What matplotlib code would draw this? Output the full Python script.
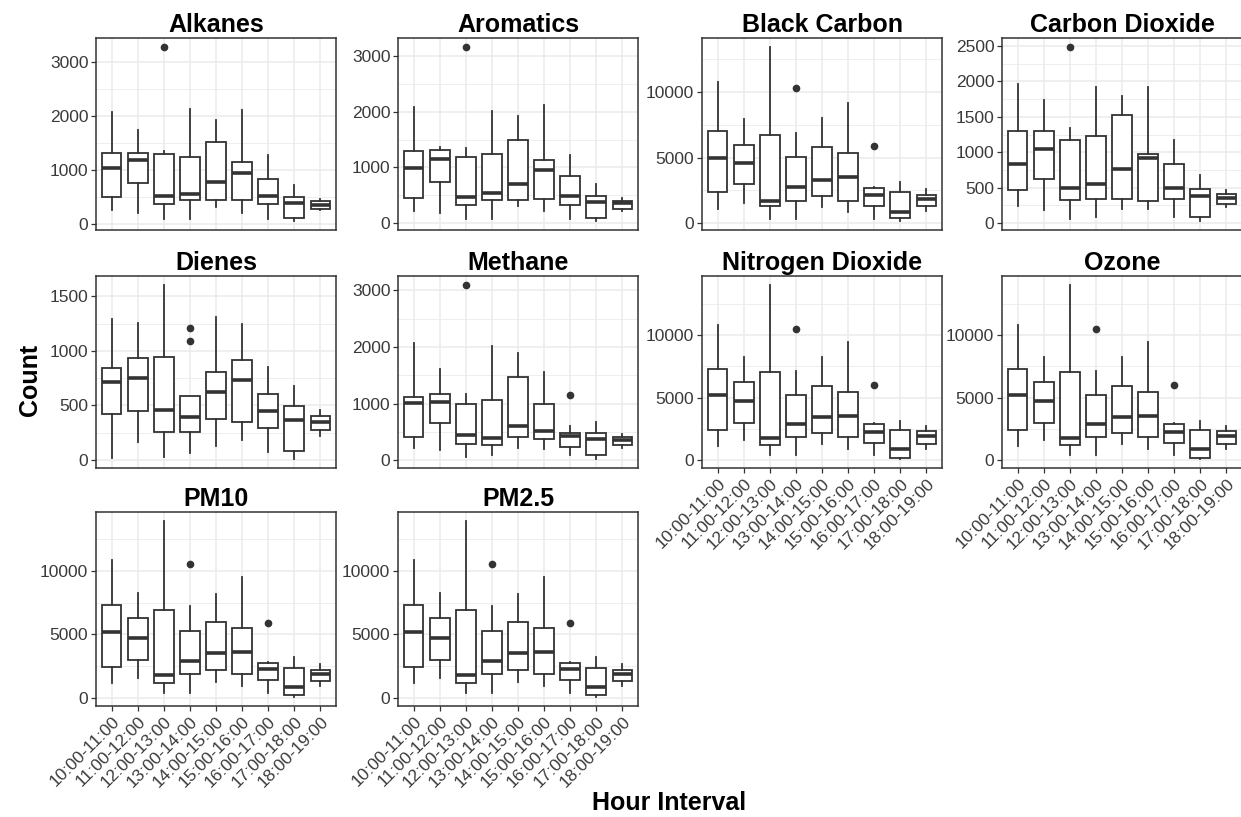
import matplotlib
matplotlib.use("Agg")
import matplotlib.pyplot as plt
from matplotlib.ticker import MultipleLocator

plt.rcParams['font.family'] = ['Liberation Sans', 'DejaVu Sans']

intervals = ["10:00-11:00", "11:00-12:00", "12:00-13:00", "13:00-14:00", "14:00-15:00",
             "15:00-16:00", "16:00-17:00", "17:00-18:00", "18:00-19:00"]

# --- box statistics: lower whisker, Q1, median, Q3, upper whisker, outliers
alkanes_lo  = [248, 199, 93, 93, 311, 205, 93, 43, 248]
alkanes_q1  = [491, 752, 360, 435, 435, 441, 360, 106, 280]
alkanes_med = [1025, 1180, 509, 559, 764, 944, 509, 385, 354]
alkanes_q3  = [1317, 1317, 1292, 1242, 1522, 1137, 826, 497, 416]
alkanes_hi  = [2081, 1739, 1354, 2137, 1925, 2112, 1273, 714, 466]
alkanes_out = [[], [], [3286], [], [], [], [], [], []]

aromatics_lo  = [228, 186, 78, 78, 305, 216, 78, 36, 228]
aromatics_q1  = [461, 737, 335, 425, 425, 431, 335, 90, 257]
aromatics_med = [994, 1156, 479, 545, 707, 946, 497, 377, 359]
aromatics_q3  = [1287, 1305, 1186, 1234, 1485, 1138, 838, 485, 407]
aromatics_hi  = [2084, 1365, 1347, 2012, 1916, 2114, 1216, 695, 455]
aromatics_out = [[], [], [3162], [], [], [], [], [], []]

bc_lo  = [1094, 1527, 331, 331, 1221, 891, 331, 153, 916]
bc_q1  = [2366, 2952, 1298, 1730, 2061, 1730, 1349, 382, 1349]
bc_med = [4987, 4580, 1730, 2748, 3308, 3511, 2163, 891, 1832]
bc_q3  = [7023, 5980, 6743, 5038, 5801, 5343, 2697, 2366, 2163]
bc_hi  = [10763, 7964, 13435, 6870, 8041, 9186, 2750, 3130, 2621]
bc_out = [[], [], [], [10280], [], [], [5852], [], []]

co2_lo  = [241, 179, 61, 85, 203, 203, 85, 24, 226]
co2_q1  = [462, 618, 321, 344, 344, 307, 344, 85, 264]
co2_med = [830, 1042, 495, 557, 769, 924, 495, 377, 354]
co2_q3  = [1302, 1302, 1170, 1226, 1524, 972, 830, 476, 406]
co2_hi  = [1958, 1745, 1349, 1915, 1797, 1915, 1170, 684, 462]
co2_out = [[], [], [2491], [], [], [], [], [], []]

dienes_lo  = [15, 167, 30, 67, 130, 182, 70, 6, 221]
dienes_q1  = [424, 448, 258, 258, 373, 348, 297, 85, 273]
dienes_med = [712, 752, 461, 394, 621, 733, 445, 370, 348]
dienes_q3  = [842, 933, 945, 582, 803, 918, 606, 491, 403]
dienes_hi  = [1288, 1258, 1606, 590, 1309, 1248, 848, 682, 461]
dienes_out = [[], [], [], [1212, 1091], [], [], [], [], []]

methane_lo  = [222, 175, 58, 88, 222, 205, 88, 18, 222]
methane_q1  = [409, 655, 292, 263, 409, 380, 234, 88, 263]
methane_med = [1006, 1035, 450, 392, 614, 515, 427, 380, 351]
methane_q3  = [1111, 1170, 994, 1064, 1474, 994, 480, 480, 409]
methane_hi  = [2076, 1608, 1170, 2018, 1901, 1561, 614, 684, 468]
methane_out = [[], [], [3099], [], [], [], [1152], [], []]

no2_lo  = [1111, 1587, 397, 397, 1270, 926, 397, 79, 926]
no2_q1  = [2381, 2963, 1190, 1852, 2196, 1852, 1376, 185, 1323]
no2_med = [5212, 4762, 1799, 2910, 3439, 3571, 2249, 873, 1905]
no2_q3  = [7275, 6270, 7011, 5238, 5899, 5476, 2857, 2381, 2302]
no2_hi  = [10794, 8254, 14021, 7143, 8254, 9471, 2963, 3175, 2725]
no2_out = [[], [], [], [10503], [], [], [5979], [], []]

ozone_lo  = [1111, 1587, 397, 397, 1270, 926, 397, 79, 926]
ozone_q1  = [2381, 2963, 1190, 1852, 2196, 1852, 1376, 185, 1323]
ozone_med = [5212, 4762, 1799, 2910, 3439, 3571, 2249, 873, 1905]
ozone_q3  = [7275, 6270, 7011, 5238, 5899, 5476, 2857, 2381, 2302]
ozone_hi  = [10794, 8254, 14021, 7143, 8254, 9471, 2963, 3175, 2725]
ozone_out = [[], [], [], [10503], [], [], [5979], [], []]

pm10_lo  = [1167, 1592, 398, 398, 1247, 928, 398, 53, 928]
pm10_q1  = [2440, 2971, 1194, 1857, 2175, 1910, 1379, 186, 1300]
pm10_med = [5146, 4695, 1830, 2918, 3501, 3581, 2255, 849, 1857]
pm10_q3  = [7268, 6286, 6950, 5278, 5942, 5491, 2759, 2387, 2228]
pm10_hi  = [10849, 8276, 13926, 7215, 8196, 9522, 2838, 3236, 2653]
pm10_out = [[], [], [], [10504], [], [], [5889], [], []]

pm25_lo  = [1167, 1592, 398, 398, 1247, 928, 398, 53, 928]
pm25_q1  = [2440, 2971, 1194, 1857, 2175, 1910, 1379, 186, 1300]
pm25_med = [5146, 4695, 1830, 2918, 3501, 3581, 2255, 849, 1857]
pm25_q3  = [7268, 6286, 6950, 5278, 5942, 5491, 2759, 2387, 2228]
pm25_hi  = [10849, 8276, 13926, 7215, 8196, 9522, 2838, 3236, 2653]
pm25_out = [[], [], [], [10504], [], [], [5889], [], []]

panel_titles = ["Alkanes", "Aromatics", "Black Carbon", "Carbon Dioxide", "Dienes",
                "Methane", "Nitrogen Dioxide", "Ozone", "PM10", "PM2.5"]
panel_stats = [
    (alkanes_lo, alkanes_q1, alkanes_med, alkanes_q3, alkanes_hi, alkanes_out),
    (aromatics_lo, aromatics_q1, aromatics_med, aromatics_q3, aromatics_hi, aromatics_out),
    (bc_lo, bc_q1, bc_med, bc_q3, bc_hi, bc_out),
    (co2_lo, co2_q1, co2_med, co2_q3, co2_hi, co2_out),
    (dienes_lo, dienes_q1, dienes_med, dienes_q3, dienes_hi, dienes_out),
    (methane_lo, methane_q1, methane_med, methane_q3, methane_hi, methane_out),
    (no2_lo, no2_q1, no2_med, no2_q3, no2_hi, no2_out),
    (ozone_lo, ozone_q1, ozone_med, ozone_q3, ozone_hi, ozone_out),
    (pm10_lo, pm10_q1, pm10_med, pm10_q3, pm10_hi, pm10_out),
    (pm25_lo, pm25_q1, pm25_med, pm25_q3, pm25_hi, pm25_out),
]
y_steps = [1000, 1000, 5000, 500, 500, 1000, 5000, 5000, 5000, 5000]

W, H = 1241, 817
fig = plt.figure(figsize=(W / 100, H / 100), dpi=100)

col_left = [96, 398, 702, 1002]
row_top = [38, 276, 512]
row_bot = [230, 468, 706]
pw = 240

DARK = "#333333"
GRID = "#EBEBEB"
TICKC = "#3A3A3A"

for i, (title, st) in enumerate(zip(panel_titles, panel_stats)):
    r, c = divmod(i, 4)
    x0 = col_left[c]
    y0, y1 = row_top[r], row_bot[r]
    ax = fig.add_axes([x0 / W, 1 - y1 / H, pw / W, (y1 - y0) / H])
    lo, q1, med, q3, hi, out = st
    stats = []
    for k in range(len(intervals)):
        stats.append(dict(whislo=lo[k], q1=q1[k], med=med[k], q3=q3[k], whishi=hi[k],
                          fliers=out[k], label=intervals[k]))
    ax.bxp(stats, positions=range(1, 10), widths=0.75, showcaps=False, patch_artist=True,
           boxprops=dict(facecolor="white", edgecolor=DARK, linewidth=1.3),
           whiskerprops=dict(color=DARK, linewidth=1.3),
           medianprops=dict(color=DARK, linewidth=2.6, solid_capstyle="butt"),
           flierprops=dict(marker="o", markerfacecolor=DARK, markeredgecolor=DARK, markersize=4.5),
           zorder=3)
    allv = lo + hi + [v for o in out for v in o]
    vmin, vmax = min(allv), max(allv)
    pad = (vmax - vmin) * 0.05
    ax.set_ylim(vmin - pad, vmax + pad)
    ax.set_xlim(0.4, 9.6)
    step = y_steps[i]
    ax.yaxis.set_major_locator(MultipleLocator(step))
    ax.yaxis.set_minor_locator(MultipleLocator(step / 2))
    ax.grid(True, which="major", color=GRID, linewidth=1.1, zorder=0)
    ax.grid(True, which="minor", axis="y", color=GRID, linewidth=0.6, zorder=0)
    ax.set_axisbelow(True)
    for sp in ax.spines.values():
        sp.set_color(DARK)
        sp.set_linewidth(1.1)
    ax.tick_params(axis="y", which="major", length=3.5, width=0.9, color=DARK,
                   labelsize=12.5, labelcolor=TICKC, pad=2)
    ax.tick_params(axis="y", which="minor", length=0)
    show_x = (r == 2) or (r == 1 and c >= 2)
    ax.set_xticks(range(1, 10))
    if show_x:
        ax.set_xticklabels(intervals, rotation=45, ha="right", rotation_mode="anchor",
                           fontsize=12.5, color=TICKC)
        ax.tick_params(axis="x", length=3.5, width=0.9, color=DARK, pad=2)
    else:
        ax.set_xticklabels([])
        ax.tick_params(axis="x", length=0)
    ax.set_title(title, fontsize=18, fontweight="bold", pad=4)

fig.text(30 / W, 1 - 380 / H, "Count", rotation=90, fontsize=18, fontweight="bold",
         ha="center", va="center")
fig.text(669 / W, 1 - 803 / H, "Hour Interval", fontsize=18, fontweight="bold",
         ha="center", va="center")

fig.savefig("out.png", dpi=100, facecolor="white")
